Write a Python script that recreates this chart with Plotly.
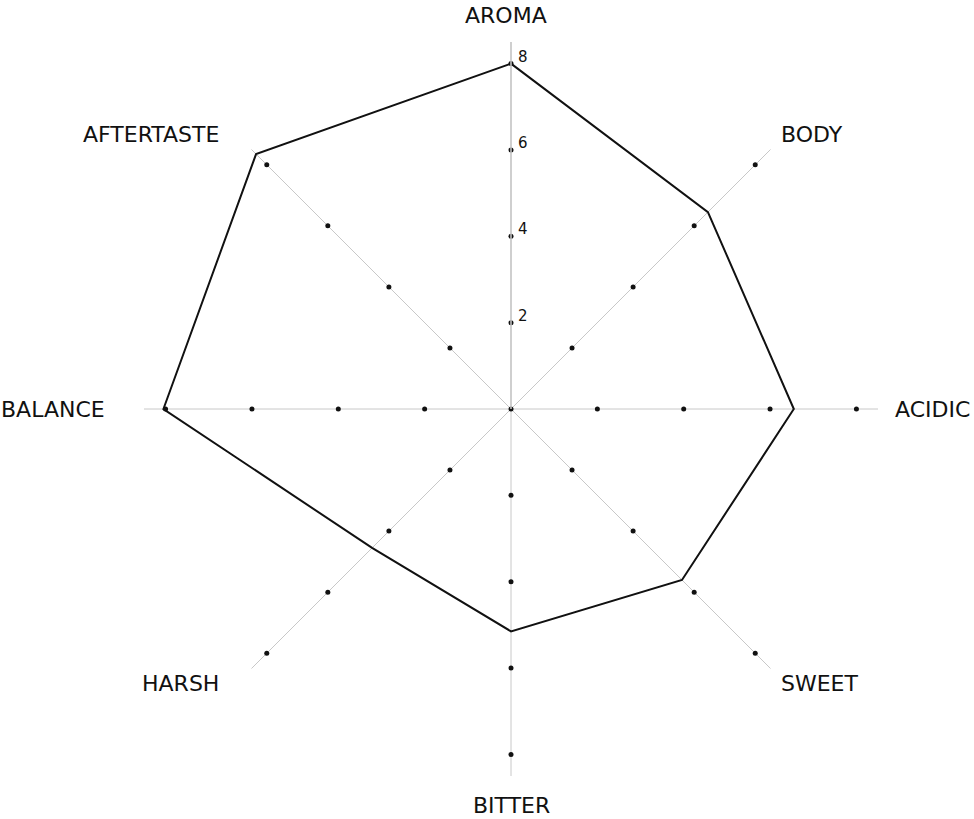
import math
import plotly.graph_objects as go

categories = ["AROMA", "BODY", "ACIDIC", "SWEET", "BITTER", "HARSH", "BALANCE", "AFTERTASTE"]
values = [8.0, 6.45, 6.55, 5.6, 5.15, 4.55, 8.05, 8.35]
tick_values = [2, 4, 6, 8]
tick_labels = ["2", "4", "6", "8"]
r_max = 8.5

W, H = 974, 819
CX, CY, R = 511, 409, 367          # polar centre / radius in pixels
LABEL_R = 388                      # distance of category labels from centre (px)
FONT = "'DejaVu Sans', sans-serif"

fig = go.Figure()

# dots along every spoke at the tick values (and centre)
dot_r, dot_t = [], []
for c in categories:
    for t in tick_values:
        dot_r.append(t)
        dot_t.append(c)
dot_r.append(0)
dot_t.append(categories[0])
fig.add_trace(go.Scatterpolar(
    r=dot_r, theta=dot_t, mode="markers",
    marker=dict(color="#111111", size=5),
    hoverinfo="skip", showlegend=False,
))

fig.add_trace(go.Scatterpolar(
    r=values + [values[0]], theta=categories + [categories[0]],
    mode="lines", line=dict(color="#111111", width=2),
    hoverinfo="skip", showlegend=False,
))

annotations = []
# radial tick labels next to the AROMA spoke
for t, lab in zip(tick_values, tick_labels):
    py = CY - t / r_max * R
    annotations.append(dict(
        x=CX / W, y=1 - py / H, xref="paper", yref="paper",
        text=lab, showarrow=False, xanchor="left", yanchor="bottom",
        xshift=5, yshift=-4,
        font=dict(size=15, color="#111111", family=FONT),
    ))

# category labels around the chart
n = len(categories)
for i, c in enumerate(categories):
    ang = math.radians(90 - i * 360 / n)
    dx, dy = math.cos(ang), math.sin(ang)
    px = CX + LABEL_R * dx
    py = CY - LABEL_R * dy
    if abs(dx) < 1e-6:
        xanchor = "center"
        xshift = -5 if dy > 0 else 0
        yshift = 6 if dy > 0 else -8
    elif dx > 0:
        xanchor, xshift, yshift = "left", -6, 0
    else:
        xanchor, xshift, yshift = "right", -16, 0
    annotations.append(dict(
        x=px / W, y=1 - py / H, xref="paper", yref="paper",
        text=c, showarrow=False, xanchor=xanchor, yanchor="middle",
        xshift=xshift, yshift=yshift,
        font=dict(size=22, color="#111111", family=FONT),
    ))

fig.update_layout(
    width=W, height=H,
    margin=dict(l=0, r=0, t=0, b=0),
    paper_bgcolor="white",
    font=dict(family=FONT, color="#111111"),
    annotations=annotations,
    polar=dict(
        domain=dict(x=[(CX - R) / W, (CX + R) / W], y=[1 - (CY + R) / H, 1 - (CY - R) / H]),
        bgcolor="white",
        radialaxis=dict(
            range=[0, r_max], angle=90,
            showgrid=False, showline=True, linecolor="#c8c8c8", linewidth=1.5,
            ticks="", showticklabels=False,
        ),
        angularaxis=dict(
            direction="clockwise", rotation=90,
            categoryorder="array", categoryarray=categories,
            showline=False, showgrid=True, gridcolor="#c8c8c8", gridwidth=1,
            ticks="", showticklabels=False,
        ),
    ),
)

fig.write_html("out.html", config={"displayModeBar": False},
               post_script="document.body.style.margin='0';")
